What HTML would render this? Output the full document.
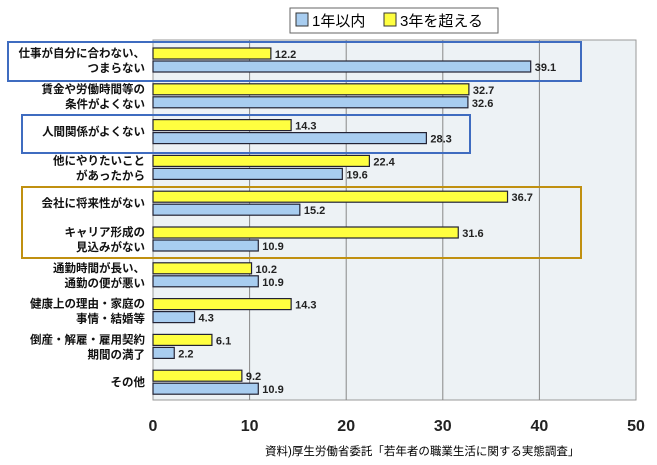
<!DOCTYPE html>
<html><head><meta charset="utf-8"><style>
body{margin:0;background:#fff;}
svg text{font-family:"Liberation Sans","Noto Sans CJK JP",sans-serif;}
</style></head><body>
<svg width="657" height="460" xmlns="http://www.w3.org/2000/svg">
<rect x="153" y="40" width="483" height="360" fill="#edf2f5" stroke="#999"/>
<g id="grid"></g>
<g id="bars"></g>
<g id="cats"></g>
<g id="ticks"></g>
<g>
<rect x="290" y="8" width="208" height="25" fill="#fff" stroke="#666"/>
<rect x="296" y="13" width="12" height="13" fill="#a8cdf0" stroke="#333"/>
<text x="312" y="26" font-size="15">1年以内</text>
<rect x="384" y="13" width="12" height="13" fill="#ffff40" stroke="#333"/>
<text x="400" y="26" font-size="15">3年を超える</text>
</g>
<rect x="8" y="42" width="573" height="39" fill="none" stroke="#3f6cc0" stroke-width="2"/>
<rect x="22" y="115" width="448" height="38" fill="none" stroke="#3f6cc0" stroke-width="2"/>
<rect x="22" y="187" width="559" height="71" fill="none" stroke="#c09010" stroke-width="2"/>
<text x="265" y="455" font-size="11.5">資料)厚生労働省委託「若年者の職業生活に関する実態調査」</text>
</svg>
<script>
const categories=[["仕事が自分に合わない、","つまらない"],["賃金や労働時間等の","条件がよくない"],["人間関係がよくない"],["他にやりたいこと","があったから"],["会社に将来性がない"],["キャリア形成の","見込みがない"],["通勤時間が長い、","通勤の便が悪い"],["健康上の理由・家庭の","事情・結婚等"],["倒産・解雇・雇用契約","期間の満了"],["その他"]];
const over3=[12.2,32.7,14.3,22.4,36.7,31.6,10.2,14.3,6.1,9.2];
const within1=[39.1,32.6,28.3,19.6,15.2,10.9,10.9,4.3,2.2,10.9];
const tickLabels=[0,10,20,30,40,50];
const NS="http://www.w3.org/2000/svg";
const x0=153,x1=636,maxV=50;
function xs(v){return x0+(x1-x0)*v/maxV;}
function rowY(i){return 48+i*35.8;}
function mk(tag,attrs,parent){const e=document.createElementNS(NS,tag);for(const k in attrs)e.setAttribute(k,attrs[k]);document.getElementById(parent).appendChild(e);return e;}
tickLabels.forEach((t,i)=>{
 if(t>0&&t<maxV){const l=mk('line',{x1:xs(t),x2:xs(t),y1:40,y2:400,stroke:'#888','stroke-width':1},'grid');
 
 }
 const tx=mk('text',{x:xs(t),y:431,'font-size':16,'text-anchor':'middle','font-weight':'bold',fill:'#222'},'ticks');
 tx.textContent=t;
 
 
});
categories.forEach((c,i)=>{
 const y=rowY(i);
 [[over3[i],'#ffff40',y,'bar-over-3yr'],[within1[i],'#a8cdf0',y+13,'bar-within-1yr']].forEach(([v,col,by,nm])=>{
  const r=mk('rect',{x:x0,y:by,width:xs(v)-x0,height:11,fill:col,stroke:'#223','stroke-width':1.2},'bars');
  
  
  const t=mk('text',{x:xs(v)+4,y:by+10,'font-size':11,'font-weight':'bold',fill:'#222'},'bars');
  t.textContent=v.toFixed(1);
  
  
 });
 const cy=y+12;
 c.forEach((line,j)=>{
  const t=mk('text',{x:145,y:(c.length===1?cy+4:cy-3+j*15),'font-size':11.5,'font-weight':'bold','text-anchor':'end',fill:'#111'},'cats');
  t.textContent=line;
  
  
 });
});
</script>
</body></html>
